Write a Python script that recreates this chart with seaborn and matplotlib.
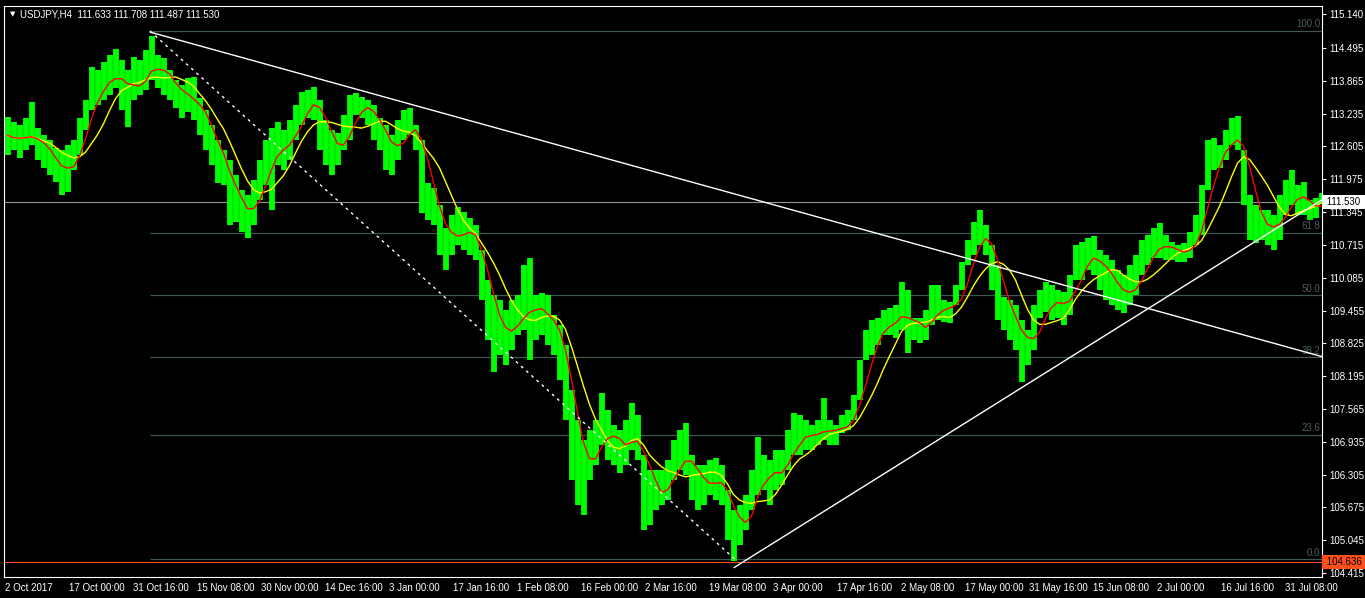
import numpy as np
import pandas as pd
import matplotlib
matplotlib.use("Agg")
import matplotlib.pyplot as plt
import seaborn as sns
from matplotlib.transforms import blended_transform_factory

# ---- daily price ranges (one entry = 6 H4 bars) ----
highs = [
    113.17, 113.07, 113.02, 113.15, 113.46, 112.96, 112.82, 112.73, 112.58, 112.54,
    112.63, 112.73, 113.15, 113.50, 114.13, 114.07, 114.22, 114.36, 114.48, 114.26,
    114.07, 114.32, 114.26, 114.46, 114.73, 114.36, 114.30, 114.07, 113.88, 113.78,
    113.92, 113.94, 113.54, 113.30, 113.02, 112.73, 112.54, 112.35, 112.06, 111.77,
    111.67, 111.96, 112.35, 112.73, 112.96, 113.07, 112.92, 113.11, 113.40, 113.65,
    113.69, 113.75, 113.50, 113.11, 112.92, 112.86, 113.21, 113.59, 113.63, 113.55,
    113.50, 113.40, 113.15, 113.02, 112.82, 113.11, 113.30, 113.34, 113.02, 112.73,
    111.90, 111.81, 111.48, 111.04, 111.29, 111.44, 111.35, 111.23, 111.10, 110.62,
    110.04, 109.75, 109.66, 109.47, 109.66, 109.75, 110.33, 110.46, 109.75, 109.79,
    109.75, 109.37, 109.18, 108.80, 107.93, 107.36, 106.97, 107.16, 107.36, 107.87,
    107.55, 107.26, 107.16, 107.36, 107.68, 107.45, 106.68, 106.40, 106.40, 106.40,
    106.59, 106.97, 107.16, 107.30, 106.68, 106.49, 106.49, 106.59, 106.63, 106.49,
    106.01, 105.63, 105.72, 105.92, 106.40, 107.03, 106.68, 106.59, 106.78, 106.78,
    107.16, 107.49, 107.45, 107.36, 107.26, 107.36, 107.78, 107.36, 107.26, 107.45,
    107.55, 107.84, 108.51, 109.08, 109.27, 109.31, 109.47, 109.51, 109.56, 110.00,
    109.85, 109.31, 109.31, 109.47, 109.95, 109.95, 109.66, 109.62, 109.95, 110.39,
    110.81, 111.15, 111.39, 111.10, 110.72, 110.33, 109.72, 109.66, 109.56, 109.27,
    109.08, 109.56, 109.85, 110.00, 109.95, 109.85, 109.81, 110.14, 110.72, 110.77,
    110.85, 110.89, 110.62, 110.52, 110.43, 110.23, 110.14, 110.33, 110.52, 110.81,
    110.91, 111.04, 111.14, 110.91, 110.77, 110.72, 110.75, 110.96, 111.29, 111.87,
    112.73, 112.77, 112.63, 112.92, 113.15, 113.19, 112.54, 111.67, 111.48, 111.39,
    111.39, 111.29, 111.67, 111.96, 112.15, 111.87, 111.92, 111.58, 111.62, 111.71,
]
lows = [
    112.44, 112.54, 112.38, 112.54, 112.63, 112.35, 112.19, 112.06, 111.92, 111.67,
    111.73, 112.15, 112.44, 112.92, 113.30, 113.40, 113.50, 113.59, 113.73, 113.30,
    112.98, 113.50, 113.59, 113.69, 113.88, 113.73, 113.59, 113.50, 113.34, 113.15,
    113.27, 113.11, 112.82, 112.54, 112.25, 111.90, 111.87, 111.10, 111.15, 110.96,
    110.85, 111.10, 111.58, 111.87, 111.39, 112.25, 112.15, 112.35, 112.73, 113.02,
    113.15, 113.11, 112.54, 112.25, 112.06, 112.25, 112.54, 112.73, 113.21, 113.15,
    113.02, 112.73, 112.54, 112.15, 112.06, 112.35, 112.73, 112.82, 112.54, 111.33,
    111.19, 111.10, 110.52, 110.23, 110.52, 110.72, 110.62, 110.52, 110.43, 109.66,
    108.89, 108.28, 108.60, 108.41, 108.70, 108.99, 109.08, 108.51, 108.89, 108.99,
    108.80, 108.60, 108.12, 107.36, 106.20, 105.72, 105.53, 106.20, 106.49, 106.88,
    106.59, 106.49, 106.34, 106.49, 106.78, 106.59, 105.25, 105.34, 105.63, 105.72,
    105.82, 106.20, 106.40, 106.30, 105.82, 105.63, 105.72, 105.92, 105.82, 105.72,
    105.05, 104.64, 104.96, 105.25, 105.63, 105.92, 106.01, 105.72, 106.01, 106.11,
    106.40, 106.68, 106.68, 106.78, 106.78, 106.88, 106.97, 106.88, 106.88, 107.11,
    107.16, 107.36, 107.74, 108.51, 108.60, 108.80, 108.99, 108.99, 108.93, 109.08,
    108.64, 108.89, 108.83, 108.89, 109.18, 109.27, 109.24, 109.22, 109.56, 109.85,
    110.33, 110.52, 110.72, 110.52, 109.85, 109.27, 109.08, 108.89, 108.70, 108.09,
    108.41, 108.70, 109.31, 109.43, 109.27, 109.31, 109.18, 109.37, 110.04, 110.04,
    110.23, 110.14, 109.85, 109.66, 109.56, 109.47, 109.41, 109.56, 109.75, 110.14,
    110.33, 110.46, 110.46, 110.43, 110.43, 110.39, 110.39, 110.46, 110.72, 110.91,
    111.77, 112.15, 112.19, 112.35, 112.63, 112.54, 111.48, 110.81, 110.75, 110.81,
    110.72, 110.62, 110.81, 111.29, 111.48, 111.29, 111.29, 111.19, 111.23, 111.49,
]
closes = [
    112.82, 112.73, 112.73, 112.82, 112.88, 112.58, 112.44, 112.35, 112.19, 111.96,
    112.25, 112.44, 113.02, 113.30, 113.78, 113.69, 113.88, 113.98, 114.07, 113.69,
    113.50, 113.88, 113.98, 114.07, 114.26, 114.03, 113.92, 113.78, 113.59, 113.50,
    113.59, 113.40, 113.15, 112.92, 112.58, 112.25, 112.15, 111.58, 111.48, 111.29,
    111.29, 111.58, 112.06, 112.44, 112.54, 112.63, 112.54, 112.82, 113.21, 113.40,
    113.50, 113.50, 113.02, 112.63, 112.44, 112.54, 112.92, 113.30, 113.44, 113.36,
    113.30, 113.02, 112.82, 112.54, 112.38, 112.73, 113.02, 113.21, 112.73, 111.96,
    111.58, 111.39, 110.91, 110.62, 110.91, 111.10, 111.00, 110.81, 110.72, 109.95,
    109.47, 108.99, 109.08, 108.99, 109.18, 109.37, 109.66, 109.47, 109.37, 109.47,
    109.27, 108.99, 108.60, 107.93, 106.97, 106.49, 106.30, 106.68, 106.97, 107.36,
    106.97, 106.88, 106.78, 106.88, 107.16, 106.97, 106.01, 105.82, 106.01, 106.01,
    106.20, 106.59, 106.78, 106.68, 106.20, 106.01, 106.11, 106.24, 106.20, 106.05,
    105.53, 105.05, 105.34, 105.63, 106.01, 106.49, 106.30, 106.20, 106.40, 106.44,
    106.88, 107.07, 107.07, 107.07, 107.01, 107.16, 107.26, 107.13, 107.07, 107.30,
    107.39, 107.64, 108.22, 108.80, 108.99, 109.08, 109.24, 109.27, 109.27, 109.56,
    109.18, 109.08, 109.08, 109.18, 109.56, 109.66, 109.43, 109.37, 109.75, 110.14,
    110.62, 110.91, 111.00, 110.81, 110.23, 109.66, 109.37, 109.27, 109.08, 108.60,
    108.80, 109.18, 109.56, 109.66, 109.66, 109.56, 109.47, 109.85, 110.43, 110.43,
    110.52, 110.46, 110.23, 110.04, 109.95, 109.75, 109.66, 109.85, 110.14, 110.43,
    110.62, 110.72, 110.77, 110.62, 110.58, 110.54, 110.58, 110.72, 111.00, 111.58,
    112.35, 112.44, 112.44, 112.73, 112.92, 112.82, 111.96, 111.19, 111.10, 111.10,
    111.04, 111.00, 111.29, 111.67, 111.81, 111.58, 111.48, 111.39, 111.42, 111.53,
]

# header values
symbol = "USDJPY,H4"
last_ohlc = [111.633, 111.708, 111.487, 111.530]
bid_price = 111.530
level_price = 104.636

# chart objects (bar index on H4 scale, price)
fib_bars = [145, 730]
fib_prices = [114.82, 104.68]
fib_levels = [0.0, 23.6, 38.2, 50.0, 61.8, 100.0]
trend_down_bars = [145, 1317]
trend_down_prices = [114.80, 108.57]
trend_up_bars = [729, 1317]
trend_up_prices = [104.52, 111.58]

# axes
price_ticks = [115.140, 114.495, 113.865, 113.235, 112.605, 111.975, 111.345, 110.715,
               110.085, 109.455, 108.825, 108.195, 107.565, 106.935, 106.305, 105.675,
               105.045, 104.415]
date_labels = ["2 Oct 2017", "17 Oct 00:00", "31 Oct 16:00", "15 Nov 08:00", "30 Nov 00:00",
               "14 Dec 16:00", "3 Jan 00:00", "17 Jan 16:00", "1 Feb 08:00", "16 Feb 00:00",
               "2 Mar 16:00", "19 Mar 08:00", "3 Apr 00:00", "17 Apr 16:00", "2 May 08:00",
               "17 May 00:00", "31 May 16:00", "15 Jun 08:00", "2 Jul 00:00", "16 Jul 16:00",
               "31 Jul 08:00"]
date_bars = list(range(0, 64 * len(date_labels), 64))

df = pd.DataFrame({"high": highs, "low": lows, "close": closes})
df["bar"] = np.arange(len(df)) * 6 + 2.5
df["ma_fast"] = df["close"].rolling(4, min_periods=1).mean()
df["ma_slow"] = df["close"].rolling(8, min_periods=1).mean()

sns.set_style("dark", {"axes.facecolor": "black", "figure.facecolor": "black"})
plt.rcParams["font.family"] = ["Liberation Sans", "DejaVu Sans"]

fig = plt.figure(figsize=(13.65, 5.98), dpi=100)
fig.patch.set_facecolor("black")
ax = fig.add_axes([4 / 1365, 21 / 598, 1318 / 1365, 571 / 598])
ax.set_facecolor("black")
ax.set_xlim(-1, 1317)
ax.set_ylim(104.34, 115.30)

# horizontal levels
fib_col = "#3e5656"
fib_lo, fib_hi = fib_prices[1], fib_prices[0]
for lvl in fib_levels:
    p = fib_lo + lvl / 100.0 * (fib_hi - fib_lo)
    ax.hlines(p, fib_bars[0], 1317, color=fib_col, linewidth=0.9, zorder=1)
    ax.text(1315, p + 0.03, f"{lvl:.1f}", color="#4b5c5c", fontsize=7,
            ha="right", va="bottom", zorder=1)
ax.axhline(bid_price, color="#8a95a0", linewidth=0.8, zorder=1)
ax.axhline(level_price, color="#ff4f1a", linewidth=0.8, zorder=1)

# price bars and moving averages
ax.vlines(df["bar"], df["low"], df["high"], color="#00ff00", linewidth=4.2, zorder=2)
sns.lineplot(data=df, x="bar", y="ma_slow", color="#ffff00", linewidth=1.0, ax=ax, zorder=3)
sns.lineplot(data=df, x="bar", y="ma_fast", color="#ff0000", linewidth=1.0, ax=ax, zorder=3)

# drawn objects
ax.plot(trend_down_bars, trend_down_prices, color="white", linewidth=1.0, zorder=4)
ax.plot(trend_up_bars, trend_up_prices, color="white", linewidth=1.0, zorder=4)
ax.plot(fib_bars, fib_prices, color="white", linewidth=1.0, linestyle=(0, (2, 3)), zorder=4)

# axes styling
ax.grid(False)
ax.set_xlabel("")
ax.set_ylabel("")
for s in ax.spines.values():
    s.set_color("white")
    s.set_linewidth(0.8)
ax.yaxis.tick_right()
ax.set_yticks(price_ticks)
ax.set_yticklabels([f"{v:.3f}" for v in price_ticks])
ax.tick_params(axis="y", colors="white", labelsize=7, length=3, width=0.8, pad=2,
               left=False, right=True)
ax.set_xticks(date_bars)
ax.set_xticklabels(date_labels, ha="left")
ax.tick_params(axis="x", colors="white", labelsize=7, length=3, width=0.8, pad=1)

trans = blended_transform_factory(ax.transAxes, ax.transData)
ax.text(1.0012, bid_price, f" {bid_price:.3f}  ", transform=trans, ha="left", va="center",
        fontsize=7, color="black", zorder=6, clip_on=False,
        bbox=dict(boxstyle="square,pad=0.2", fc="white", ec="none"))
ax.text(1.0012, level_price, f" {level_price:.3f}  ", transform=trans, ha="left", va="center",
        fontsize=7, color="black", zorder=6, clip_on=False,
        bbox=dict(boxstyle="square,pad=0.2", fc="#ff4f1a", ec="none"))

# header
fig.text(10 / 1365, 1 - 14.5 / 598, "\u25bc", color="white", fontsize=5,
         va="center", family=["DejaVu Sans"])
fig.text(20 / 1365, 1 - 14.5 / 598,
         symbol + "  " + " ".join(f"{v:.3f}" for v in last_ohlc),
         color="white", fontsize=7, va="center")

fig.savefig("out.png", dpi=100, facecolor="black")
